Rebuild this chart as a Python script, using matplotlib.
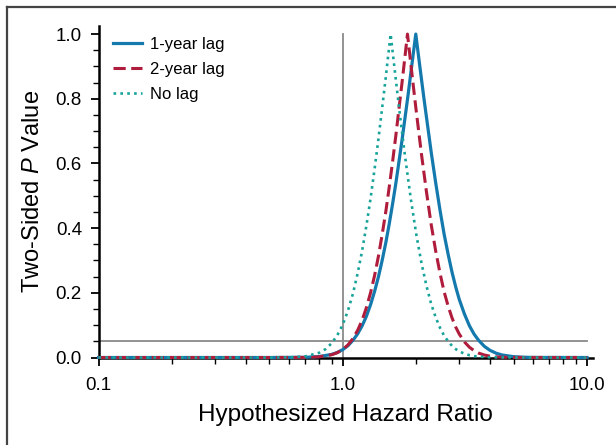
import matplotlib
matplotlib.use("Agg")
import matplotlib.pyplot as plt
from matplotlib.lines import Line2D

plt.rcParams['font.family'] = ['Liberation Sans', 'DejaVu Sans']
plt.rcParams['mathtext.fontset'] = 'custom'
plt.rcParams['mathtext.it'] = 'Liberation Sans:italic'
plt.rcParams['mathtext.rm'] = 'Liberation Sans'

# values (hazard ratio, two-sided P)
hr_1yr = [0.1, 0.5, 0.7, 0.8, 0.9, 0.95, 1.0, 1.05, 1.1, 1.15, 1.2, 1.25, 1.3, 1.35, 1.4,
          1.45, 1.5, 1.55, 1.6, 1.65, 1.7, 1.75, 1.8, 1.85, 1.9, 1.95, 1.99, 2.05, 2.1, 2.15,
          2.2, 2.3, 2.4, 2.5, 2.6, 2.7, 2.8, 2.9, 3.0, 3.15, 3.3, 3.45, 3.6, 3.8, 4.0, 4.25,
          4.5, 5.0, 5.5, 6.0, 10.0]
p_1yr = [0.0, 0.0, 0.0006, 0.0029, 0.0096, 0.0157, 0.0245, 0.0366, 0.053, 0.073, 0.098,
         0.128, 0.164, 0.205, 0.250, 0.301, 0.355, 0.414, 0.476, 0.540, 0.608, 0.675, 0.744,
         0.811, 0.881, 0.948, 1.0, 0.922, 0.860, 0.800, 0.744, 0.636, 0.541, 0.456, 0.381,
         0.319, 0.264, 0.218, 0.179, 0.134, 0.098, 0.072, 0.053, 0.0345, 0.0225, 0.0131,
         0.0077, 0.0026, 0.0009, 0.0003, 0.0]

hr_2yr = [0.1, 0.5, 0.7, 0.8, 0.9, 0.95, 1.0, 1.05, 1.1, 1.15, 1.2, 1.25, 1.3, 1.35, 1.4,
          1.45, 1.5, 1.55, 1.6, 1.65, 1.7, 1.75, 1.8, 1.84, 1.9, 1.95, 2.0, 2.1, 2.2, 2.3,
          2.4, 2.5, 2.6, 2.7, 2.8, 2.9, 3.0, 3.15, 3.3, 3.45, 3.6, 3.8, 4.0, 4.25, 4.5, 5.0,
          10.0]
p_2yr = [0.0, 0.0, 0.0004, 0.0022, 0.0085, 0.015, 0.0249, 0.039, 0.0585, 0.084, 0.1155,
         0.155, 0.201, 0.254, 0.314, 0.381, 0.451, 0.528, 0.607, 0.688, 0.772, 0.853, 0.935,
         1.0, 0.906, 0.831, 0.760, 0.628, 0.513, 0.412, 0.330, 0.261, 0.203, 0.159, 0.1226,
         0.094, 0.0722, 0.048, 0.0318, 0.021, 0.0136, 0.0077, 0.0043, 0.0021, 0.001, 0.0002,
         0.0]

hr_nolag = [0.1, 0.5, 0.6, 0.7, 0.8, 0.85, 0.9, 0.95, 1.0, 1.05, 1.1, 1.15, 1.2, 1.25, 1.3,
            1.35, 1.4, 1.45, 1.5, 1.53, 1.57, 1.6, 1.65, 1.7, 1.75, 1.8, 1.9, 2.0, 2.1, 2.2,
            2.3, 2.4, 2.5, 2.6, 2.7, 2.8, 2.9, 3.0, 3.15, 3.3, 3.45, 3.6, 4.0, 5.0, 10.0]
p_nolag = [0.0, 0.0, 0.0005, 0.0034, 0.0146, 0.026, 0.044, 0.069, 0.102, 0.145, 0.197,
           0.260, 0.330, 0.409, 0.493, 0.584, 0.677, 0.773, 0.867, 0.926, 1.0, 0.945, 0.857,
           0.772, 0.694, 0.620, 0.489, 0.380, 0.292, 0.222, 0.166, 0.1245, 0.092, 0.0673,
           0.050, 0.0359, 0.026, 0.0189, 0.0117, 0.0071, 0.0044, 0.0026, 0.0007, 0.0, 0.0]

fig = plt.figure(figsize=(6.16, 4.45), dpi=100)
ax = fig.add_axes([0.160, 0.1966, 0.803, 0.745])

# reference lines: null HR and P = .05
ax.plot([1.0, 1.0], [0, 1.0], color='#8a8a8a', lw=1.3, zorder=1)
ax.plot([0.1, 10.0], [0.05, 0.05], color='#8a8a8a', lw=1.3, zorder=1)

ax.plot(hr_1yr, p_1yr, color='#1479ad', lw=2.3, label='1-year lag', clip_on=False, zorder=3)
ax.plot(hr_2yr, p_2yr, color='#b01c3c', lw=2.2, ls=(0, (4, 1.8)), label='2-year lag',
        clip_on=False, zorder=4)
ax.plot(hr_nolag, p_nolag, color='#17a39a', lw=1.9, ls=(0, (1, 1.6)), label='No lag',
        clip_on=False, zorder=5)

ax.set_xscale('log')
ax.set_xlim(0.1, 10.6)
ax.set_ylim(0, 1.025)
ax.set_xticks([0.1, 1.0, 10.0])
ax.set_xticklabels(['0.1', '1.0', '10.0'])
ax.set_yticks([0.0, 0.2, 0.4, 0.6, 0.8, 1.0])
ax.set_yticklabels(['0.0', '0.2', '0.4', '0.6', '0.8', '1.0'])
ax.set_yticks([i * 0.05 for i in range(21)], minor=True)

for s in ['top', 'right']:
    ax.spines[s].set_visible(False)
for s in ['left', 'bottom']:
    ax.spines[s].set_linewidth(1.8)
ax.tick_params(which='major', length=6, width=1.3, labelsize=13.5, pad=6)
ax.tick_params(which='minor', length=4, width=1.0)
ax.tick_params(axis='x', which='major', pad=8)

ax.set_xlabel('Hypothesized Hazard Ratio', fontsize=17.5)
ax.xaxis.set_label_coords(0.5, -0.14)
ax.set_ylabel('Two-Sided $\\it{P}$ Value', fontsize=17)
ax.yaxis.set_label_coords(-0.11, 0.5)

ax.legend(loc='upper left', frameon=False, fontsize=12, handlelength=1.75,
          handletextpad=0.5, borderpad=0, borderaxespad=0, labelspacing=0.6,
          bbox_to_anchor=(0.029, 0.967))

# thin frame around the figure (top and left)
fig.add_artist(Line2D([7 / 616, 7 / 616], [0, 1 - 7 / 445], color='#444444', lw=1.6))
fig.add_artist(Line2D([7 / 616, 1], [1 - 7 / 445, 1 - 7 / 445], color='#444444', lw=1.6))

fig.savefig('out.png', dpi=100)
